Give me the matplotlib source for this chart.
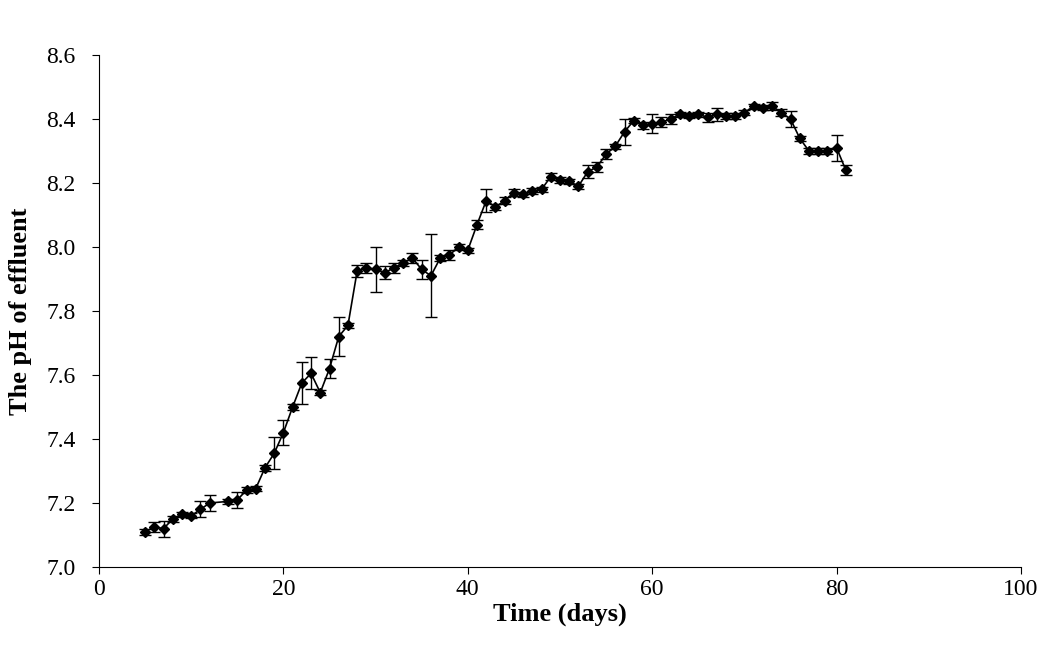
import matplotlib
matplotlib.use('Agg')
import matplotlib.pyplot as plt

plt.rcParams['font.family'] = ['Liberation Serif', 'DejaVu Serif']

days = [5, 6, 7, 8, 9, 10, 11, 12, 14, 15, 16, 17, 18, 19, 20, 21, 22, 23, 24, 25,
        26, 27, 28, 29, 30, 31, 32, 33, 34, 35, 36, 37, 38, 39, 40, 41, 42, 43, 44, 45,
        46, 47, 48, 49, 50, 51, 52, 53, 54, 55, 56, 57, 58, 59, 60, 61, 62, 63, 64, 65,
        66, 67, 68, 69, 70, 71, 72, 73, 74, 75, 76, 77, 78, 79, 80, 81]
ph = [7.11, 7.125, 7.12, 7.15, 7.165, 7.16, 7.18, 7.20, 7.205, 7.21, 7.24, 7.245, 7.31, 7.355,
      7.42, 7.50, 7.575, 7.605, 7.545, 7.62, 7.72, 7.755, 7.925, 7.935, 7.93, 7.92, 7.935, 7.95,
      7.965, 7.93, 7.91, 7.965, 7.975, 8.00, 7.99, 8.07, 8.145, 8.125, 8.145, 8.17, 8.165, 8.175,
      8.18, 8.22, 8.21, 8.205, 8.19, 8.235, 8.25, 8.29, 8.315, 8.36, 8.395, 8.38, 8.385, 8.39,
      8.40, 8.415, 8.41, 8.415, 8.405, 8.415, 8.41, 8.41, 8.42, 8.44, 8.435, 8.44, 8.42, 8.40,
      8.34, 8.30, 8.30, 8.30, 8.31, 8.24]
err = [0.01, 0.015, 0.025, 0.01, 0.008, 0.008, 0.025, 0.025, 0.008, 0.025, 0.01, 0.008, 0.01, 0.05,
       0.04, 0.01, 0.065, 0.05, 0.008, 0.03, 0.06, 0.008, 0.02, 0.015, 0.07, 0.02, 0.015, 0.01,
       0.015, 0.03, 0.13, 0.01, 0.015, 0.008, 0.008, 0.015, 0.035, 0.008, 0.01, 0.01, 0.008, 0.008,
       0.008, 0.01, 0.01, 0.008, 0.008, 0.02, 0.015, 0.015, 0.008, 0.04, 0.008, 0.01, 0.03, 0.015,
       0.015, 0.008, 0.008, 0.008, 0.015, 0.02, 0.01, 0.01, 0.008, 0.008, 0.008, 0.012, 0.01, 0.025,
       0.008, 0.008, 0.008, 0.008, 0.04, 0.015]

fig = plt.figure(figsize=(10.45, 6.54), dpi=100)
ax = fig.add_axes([99 / 1045, 1 - 567 / 654, 922 / 1045, 512 / 654])
ax.errorbar(days, ph, yerr=err, color='black', marker='D', markersize=5.5, linewidth=1.2,
            elinewidth=1, capsize=4, capthick=1)
ax.set_xlim(0, 100)
ax.set_ylim(7.0, 8.6)
ax.set_xticks(range(0, 101, 20))
ax.set_yticks([7.0 + 0.2 * i for i in range(9)])
ax.yaxis.set_major_formatter(matplotlib.ticker.FormatStrFormatter('%.1f'))
ax.tick_params(labelsize=17, direction='out', length=5)
ax.tick_params(axis='y', pad=12)
ax.spines['top'].set_visible(False)
ax.spines['right'].set_visible(False)
ax.set_xlabel('Time (days)', fontsize=19, fontweight='bold', labelpad=2)
ax.set_ylabel('The pH of effluent', fontsize=19, fontweight='bold', labelpad=10)
fig.savefig('out.png', dpi=100)
